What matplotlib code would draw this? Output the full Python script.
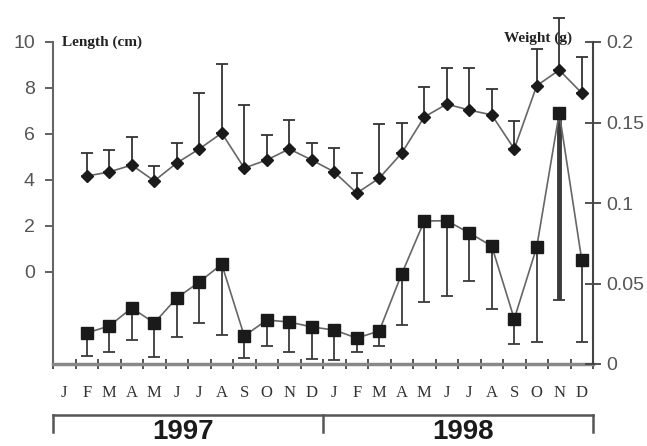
import numpy as np
import matplotlib.pyplot as plt
from matplotlib.lines import Line2D

# --- data (Feb 1997 .. Dec 1998) ---
month_letters = ["J", "F", "M", "A", "M", "J", "J", "A", "S", "O", "N", "D"]
years = ["1997", "1998"]
month_idx = np.arange(1, 24)          # 0 = Jan 1997

length_cm = [4.17, 4.35, 4.65, 3.96, 4.74, 5.35, 6.04, 4.52, 4.87, 5.35, 4.87,
             4.35, 3.43, 4.08, 5.17, 6.74, 7.30, 7.04, 6.83, 5.35, 8.10, 8.78, 7.78]
length_top = [5.17, 5.30, 5.87, 4.60, 5.60, 7.78, 9.04, 7.26, 5.96, 6.60, 5.60,
              5.39, 4.30, 6.43, 6.47, 8.04, 8.87, 8.87, 7.94, 6.57, 9.70, 11.05, 9.35]

weight_g = [0.0193, 0.0236, 0.0348, 0.0255, 0.0410, 0.0509, 0.0620, 0.0174, 0.0273,
            0.0261, 0.0230, 0.0211, 0.0161, 0.0205, 0.0560, 0.0888, 0.0890, 0.0814,
            0.0733, 0.0280, 0.0727, 0.1560, 0.0646]
weight_low = [0.0050, 0.0075, 0.0149, 0.0043, 0.0168, 0.0255, 0.0180, 0.0037, 0.0112,
              0.0075, 0.0030, 0.0025, 0.0075, 0.0112, 0.0242, 0.0385, 0.0420, 0.0515,
              0.0342, 0.0124, 0.0137, 0.0398, 0.0137]

x = month_idx + 0.5
length_cm = np.array(length_cm)
weight_g = np.array(weight_g)
len_err = np.vstack([np.zeros(len(x)), np.array(length_top) - length_cm])
wt_err = np.vstack([weight_g - np.array(weight_low), np.zeros(len(x))])

serif = ["Liberation Serif", "DejaVu Serif"]
sans = ["Liberation Sans", "DejaVu Sans"]

fig = plt.figure(figsize=(6.47, 4.46), dpi=100)
ax = fig.add_axes([53 / 647, 1 - 364 / 446, 540 / 647, 322 / 446])
ax2 = ax.twinx()

# length (left axis)
ax.errorbar(x, length_cm, yerr=len_err, fmt="none", ecolor="#333333",
            elinewidth=1.3, capsize=4, capthick=1.3, clip_on=False, zorder=2)
ax.plot(x, length_cm, "-", color="#666666", lw=1.2, zorder=3)
ax.plot(x, length_cm, "D", color="#1a1a1a", ms=6.5, zorder=4, clip_on=False)

# weight (right axis)
eb = ax2.errorbar(x, weight_g, yerr=wt_err, fmt="none", ecolor="#3a3a3a",
                  elinewidth=1.3, capsize=4, capthick=1.3, zorder=2)
lw = [1.3] * len(x)
lw[21] = 3.5
eb.lines[2][0].set_linewidths(lw)
ax2.plot(x, weight_g, "-", color="#666666", lw=1.2, zorder=3)
ax2.plot(x, weight_g, "s", color="#1a1a1a", ms=9, zorder=4)

ax.set_xlim(0, 24)
ax.set_ylim(-4, 10)
ax2.set_ylim(0, 0.2)

ax.set_yticks([0, 2, 4, 6, 8, 10])
ax.set_yticklabels(["0", "2", "4", "6", "8", "10"], family=sans, fontsize=14, color="#555555")
ax.tick_params(axis="y", direction="out", length=6, width=1.3, color="#555555", pad=7)

ax2.set_yticks([0, 0.05, 0.1, 0.15, 0.2])
ax2.set_yticklabels(["0", "0.05", "0.1", "0.15", "0.2"], family=sans, fontsize=14, color="#555555")
ax2.tick_params(axis="y", direction="inout", length=11, width=1.3, color="#444444", pad=4)

ax.set_xticks(np.arange(0, 25), minor=True)
ax.set_xticks(np.arange(24) + 0.5)
ax.set_xticklabels(month_letters * 2, family=serif, fontsize=12, color="#333333")
ax.tick_params(axis="x", which="major", length=0, pad=15)
ax.tick_params(axis="x", which="minor", direction="inout", length=7, width=1.3, color="#444444")

for a in (ax, ax2):
    a.spines["top"].set_visible(False)
ax.spines["left"].set_color("#666666")
ax.spines["left"].set_linewidth(1.5)
ax2.spines["right"].set_color("#444444")
ax2.spines["right"].set_linewidth(1.5)
ax.spines["bottom"].set_color("#888888")
ax.spines["bottom"].set_linewidth(2.5)
ax2.spines["bottom"].set_visible(False)
ax2.spines["left"].set_visible(False)
ax.spines["right"].set_visible(False)

ax.text(0.016, 1.0, "Length (cm)", transform=ax.transAxes, family=serif,
        fontweight="bold", fontsize=11, color="#222222", va="center", ha="left")
ax2.text(0.961, 1.012, "Weight (g)", transform=ax2.transAxes, family=serif,
         fontweight="bold", fontsize=11, color="#222222", va="center", ha="right")

# year bracket under the months
yb, yt = -0.158, -0.212
ax.add_line(Line2D([0, 1], [yb, yb], transform=ax.transAxes, color="#555555",
                   lw=1.8, clip_on=False))
for xv in (0, 0.5, 1):
    ax.add_line(Line2D([xv, xv], [yb, yt], transform=ax.transAxes, color="#555555",
                       lw=1.8, clip_on=False))
for xv, yr in zip((0.24, 0.76), years):
    ax.text(xv, -0.2516, yr, transform=ax.transAxes, ha="center", va="bottom",
            family=sans, fontweight="bold", fontsize=20, color="#1a1a1a")

fig.savefig("out.png", dpi=100)
